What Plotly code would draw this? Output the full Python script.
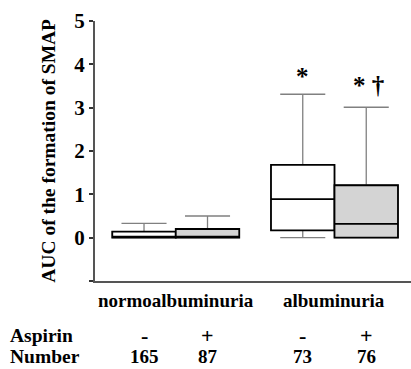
import plotly.graph_objects as go

# ---- data ----
groups = ["normoalbuminuria", "albuminuria"]
aspirin = ["-", "+", "-", "+"]
numbers = ["165", "87", "73", "76"]
positions = [0, 1, 2.5, 3.5]
q1 = [0.0, 0.0, 0.17, 0.0]
median = [0.0, 0.0, 0.89, 0.32]
q3 = [0.14, 0.20, 1.68, 1.21]
lower = [0.0, 0.0, 0.0, 0.0]
upper = [0.33, 0.50, 3.31, 3.01]
fills = ["white", "#d4d4d4", "white", "#d4d4d4"]
marks = ["", "", "*", "* †"]
ytick_vals = [-1, 0, 1, 2, 3, 4, 5]
ytick_text = ["", "0", "1", "2", "3", "4", "5"]

FONT = "Liberation Serif, Times New Roman, serif"

fig = go.Figure()

# whisker layer (grey)
fig.add_trace(go.Box(
    x=positions, q1=q1, median=median, q3=q3,
    lowerfence=lower, upperfence=upper,
    width=1, whiskerwidth=0.71,
    line=dict(color="#808080", width=1.3),
    fillcolor="rgba(0,0,0,0)", boxpoints=False,
    hoverinfo="skip", showlegend=False,
))

# box layer (black outline)
for i, p in enumerate(positions):
    fig.add_trace(go.Box(
        x=[p], q1=[q1[i]], median=[median[i]], q3=[q3[i]],
        lowerfence=[q1[i]], upperfence=[q3[i]],
        width=1, whiskerwidth=0,
        line=dict(color="black", width=1.8),
        fillcolor=fills[i], boxpoints=False,
        hoverinfo="skip", showlegend=False,
    ))

# significance marks
for i, p in enumerate(positions):
    if marks[i]:
        single = marks[i] == "*"
        fig.add_annotation(
            x=p + (0.0 if single else 0.03),
            y=upper[i], yref="y", xref="x",
            text=marks[i], showarrow=False, yanchor="bottom",
            yshift=2 if single else 6,
            font=dict(family=FONT, size=25, color="black", weight="bold"),
        )

# group labels
for gi, g in enumerate(groups):
    cx = (positions[2 * gi] + positions[2 * gi + 1]) / 2
    fig.add_annotation(
        x=cx, xref="x", y=-0.075, yref="paper", text=g, showarrow=False,
        yanchor="middle", font=dict(family=FONT, size=19, color="black", weight="bold"),
    )

# aspirin / number rows
for i, p in enumerate(positions):
    fig.add_annotation(
        x=p, xref="x", y=-0.21, yref="paper", text=aspirin[i], showarrow=False,
        yanchor="middle",
        font=dict(family=FONT, size=22, color="black", weight="bold"),
    )
    fig.add_annotation(
        x=p, xref="x", y=-0.29, yref="paper", text=numbers[i], showarrow=False,
        yanchor="middle", font=dict(family=FONT, size=19, color="black", weight="bold"),
    )

for label, yy in [("Aspirin", -0.21), ("Number", -0.29)]:
    fig.add_annotation(
        x=-0.275, xref="paper", y=yy, yref="paper", text=label, showarrow=False,
        xanchor="left", yanchor="middle",
        font=dict(family=FONT, size=19.5, color="black", weight="bold"),
    )

# y-axis title
fig.add_annotation(
    x=-0.148, xref="paper", y=0.502, yref="paper",
    text="AUC of the formation of SMAP", textangle=-90, showarrow=False,
    xanchor="center", yanchor="middle",
    font=dict(family=FONT, size=19.5, color="black", weight="bold"),
)

fig.update_layout(
    width=411, height=369,
    margin=dict(l=95, r=0, t=21, b=88),
    paper_bgcolor="white", plot_bgcolor="white",
    boxmode="overlay",
    xaxis=dict(range=[-0.772, 4.205], showgrid=False, zeroline=False,
               showticklabels=False, ticks="", showline=True,
               linecolor="#555555", linewidth=2, fixedrange=True),
    yaxis=dict(range=[-1, 5], tickvals=ytick_vals, ticktext=ytick_text,
               showgrid=False, zeroline=False, showline=True,
               linecolor="#555555", linewidth=2, ticks="outside", ticklen=4,
               tickwidth=2, tickcolor="#333333",
               tickfont=dict(family=FONT, size=21, color="black", weight="bold"),
               fixedrange=True),
)

fig.write_html("out.html", config={"displayModeBar": False},
               post_script="document.body.style.margin='0';")
